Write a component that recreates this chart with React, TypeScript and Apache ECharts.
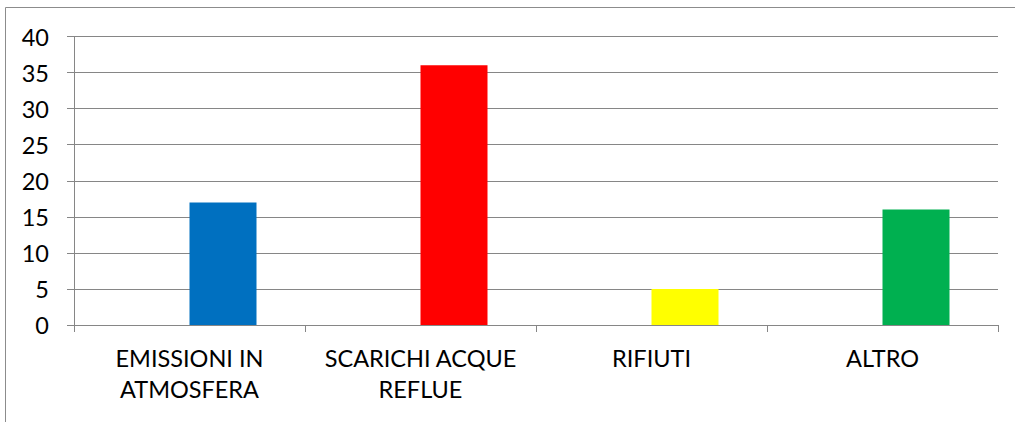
import React, { useEffect, useRef } from "react";
import * as echarts from "echarts";

const categories = ["EMISSIONI IN\nATMOSFERA", "SCARICHI ACQUE\nREFLUE", "RIFIUTI", "ALTRO"];
const emptySeries = ["-", "-", "-", "-"];
const values = [17, 36, 5, 16];
const barColors = ["#0070C0", "#FF0000", "#FFFF00", "#00B050"];

export default function App() {
  const ref = useRef<HTMLDivElement>(null);
  useEffect(() => {
    if (!ref.current) return;
    const chart = echarts.init(ref.current, null, { renderer: "svg" });
    const font = "Lato, Liberation Sans, Arial, sans-serif";
    chart.setOption({
      animation: false,
      backgroundColor: "#ffffff",
      graphic: [
        {
          type: "rect",
          shape: { x: 5.5, y: 7.5, width: 1100, height: 500 },
          style: { fill: "none", stroke: "#8c8c8c", lineWidth: 1 },
          silent: true,
        },
      ],
      grid: { left: 74, right: 17, top: 36.5, bottom: 97 },
      xAxis: {
        type: "category",
        data: categories,
        axisLine: { show: true, lineStyle: { color: "#868686", width: 1 } },
        axisTick: { show: true, length: 7, lineStyle: { color: "#868686" } },
        axisLabel: {
          color: "#000000",
          fontFamily: font,
          fontSize: 23.5,
          lineHeight: 31,
          margin: 17,
          interval: 0,
        },
      },
      yAxis: {
        type: "value",
        min: 0,
        max: 40,
        interval: 5,
        axisLine: { show: true, lineStyle: { color: "#868686", width: 1 } },
        axisTick: { show: true, length: 7, lineStyle: { color: "#868686" } },
        splitLine: { show: true, lineStyle: { color: "#868686", width: 1 } },
        axisLabel: {
          color: "#000000",
          fontFamily: font,
          fontSize: 23.5,
          margin: 25,
        },
      },
      series: [
        {
          type: "bar",
          data: emptySeries,
          barWidth: 67,
          barGap: "0%",
        },
        {
          type: "bar",
          data: values.map((v, i) => ({ value: v, itemStyle: { color: barColors[i] } })),
          barWidth: 67,
          barGap: "0%",
        },
      ],
    });
    return () => chart.dispose();
  }, []);
  return (
    <div
      ref={ref}
      style={{ position: "fixed", left: 0, top: 0, width: 1015, height: 422 }}
    />
  );
}
